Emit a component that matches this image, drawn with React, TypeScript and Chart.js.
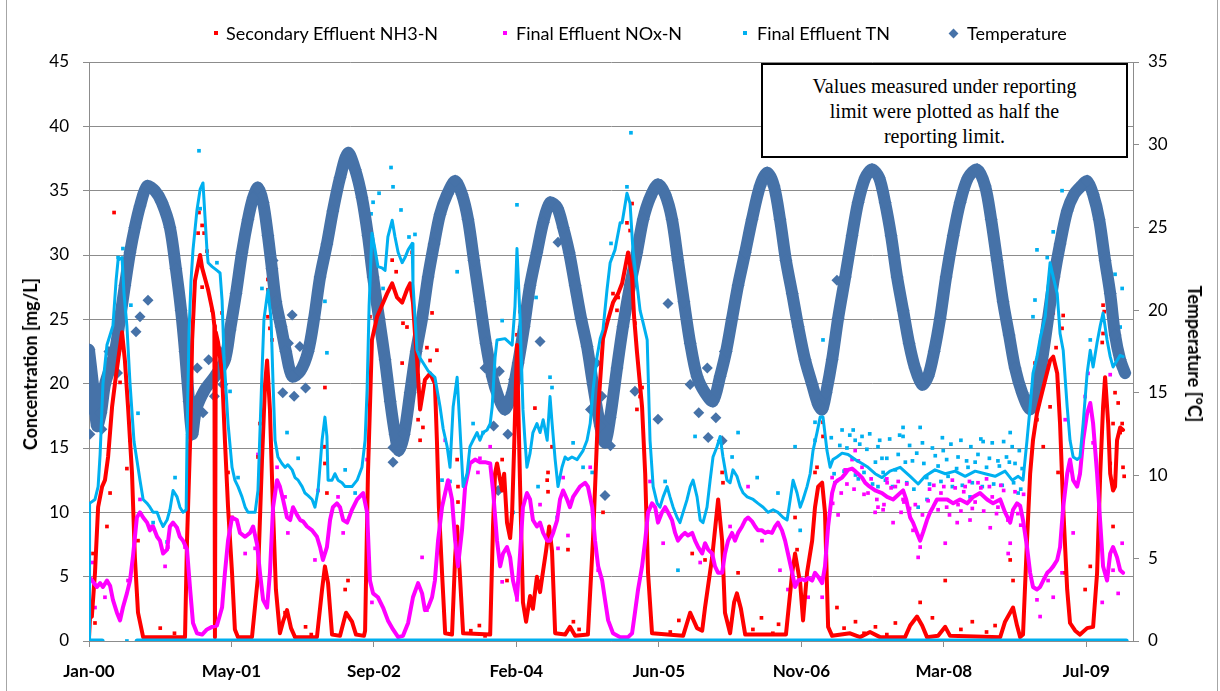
import { useEffect, useRef } from 'react';
import { Chart, registerables } from 'chart.js';

Chart.register(...registerables);

// x axis: days since 1 Jan 2000
const xMaxDay = 3664;
const xTickDays = [0, 500, 1000, 1500, 2000, 2500, 3000, 3500];
const xTickLabels = ['Jan-00', 'May-01', 'Sep-02', 'Feb-04', 'Jun-05', 'Nov-06', 'Mar-08', 'Jul-09'];

// Moving-average lines [day, mg/L]
const nh3Trend = [[0,0.3],[4,2.0],[10,1.9],[21,5.3],[32,10.4],[46,12.0],[56,12.5],[67,14.3],[81,18.2],[91,20.0],[102,21.8],[116,24.0],[126,21.8],[137,18.2],[151,13.0],[161,6.5],[172,2.2],[190,0.3],[337,0.3],[344,7.8],[355,15.6],[362,23.4],[372,28.0],[390,30.0],[397,29.0],[418,27.3],[435,25.5],[440,24.5],[442,0.3],[445,24.0],[453,23.2],[467,20.8],[477,15.6],[488,10.4],[502,5.3],[512,0.9],[523,0.3],[572,0.3],[593,5.0],[607,14.0],[618,20.0],[625,21.8],[635,18.0],[646,10.0],[656,4.0],[670,0.6],[681,1.5],[695,2.4],[709,1.0],[723,0.3],[800,0.3],[818,4.0],[828,5.8],[839,4.5],[853,0.5],[881,0.4],[902,2.2],[923,1.5],[937,0.5],[965,0.4],[969,0.8],[979,13.0],[993,23.4],[1011,25.2],[1046,27.0],[1064,27.8],[1081,26.7],[1099,26.3],[1116,27.3],[1127,27.8],[1137,26.3],[1144,23.9],[1151,22.0],[1162,18.0],[1179,20.3],[1197,20.8],[1214,20.0],[1221,15.6],[1228,10.4],[1239,5.3],[1250,0.6],[1274,0.5],[1285,6.5],[1292,8.9],[1302,5.0],[1313,0.6],[1408,0.5],[1418,9.0],[1425,13.0],[1432,13.8],[1443,12.5],[1450,11.7],[1457,13.0],[1467,9.2],[1478,8.0],[1485,10.0],[1492,15.0],[1502,23.0],[1513,12.0],[1523,3.0],[1534,1.5],[1548,3.5],[1558,2.5],[1572,5.0],[1583,3.8],[1594,5.5],[1604,7.0],[1615,8.9],[1625,7.0],[1636,0.6],[1671,0.5],[1688,1.1],[1706,0.4],[1751,0.5],[1769,8.0],[1787,18.0],[1804,23.5],[1822,25.0],[1839,26.3],[1857,27.0],[1871,27.8],[1892,30.2],[1906,28.3],[1913,25.2],[1923,22.5],[1941,18.2],[1952,13.0],[1962,5.3],[1976,0.6],[2085,0.4],[2110,2.2],[2134,1.0],[2152,0.8],[2162,2.6],[2187,6.5],[2208,11.0],[2222,7.8],[2232,2.2],[2250,0.6],[2264,3.0],[2274,3.7],[2288,2.5],[2303,0.5],[2446,0.5],[2468,5.3],[2478,6.8],[2496,4.5],[2506,1.6],[2520,5.3],[2538,7.8],[2548,10.4],[2559,12.0],[2573,12.3],[2583,10.0],[2594,1.1],[2608,0.4],[2671,0.6],[2706,0.3],[2741,0.7],[2776,0.3],[2864,0.3],[2882,1.2],[2906,1.9],[2924,1.2],[2941,0.3],[2980,0.4],[3005,1.1],[3022,0.4],[3198,0.3],[3215,1.5],[3243,2.6],[3257,1.2],[3268,0.3],[3278,0.5],[3292,7.8],[3303,13.0],[3313,15.6],[3327,17.7],[3338,18.7],[3356,20.3],[3373,21.8],[3384,22.1],[3398,20.8],[3408,16.9],[3419,10.4],[3433,4.0],[3443,1.4],[3461,0.8],[3478,0.5],[3503,1.0],[3524,1.1],[3538,5.3],[3549,13.0],[3559,18.2],[3566,20.5],[3577,16.9],[3584,13.0],[3594,11.7],[3601,12.0],[3608,15.6],[3619,16.6],[3629,16.4]];

const noxTrend = [[0,5.0],[14,4.6],[28,4.2],[39,4.5],[49,4.2],[63,4.7],[74,4.3],[84,3.2],[98,2.2],[109,1.6],[119,2.6],[133,3.7],[144,4.7],[154,6.5],[168,9.6],[179,10.0],[190,9.6],[204,9.2],[214,8.6],[225,8.9],[239,8.1],[249,7.8],[260,6.8],[274,7.1],[284,8.9],[295,9.2],[309,8.8],[319,8.1],[330,7.8],[344,7.1],[355,4.0],[365,1.4],[379,0.6],[397,0.5],[414,0.9],[432,1.1],[449,1.2],[467,2.6],[477,5.3],[488,7.8],[502,9.6],[519,9.4],[530,8.4],[548,8.1],[565,8.4],[576,8.9],[590,7.5],[600,5.3],[611,3.2],[625,2.6],[635,5.3],[646,10.4],[660,12.5],[670,12.0],[681,11.0],[695,9.6],[706,9.4],[716,10.4],[730,9.8],[741,9.4],[751,9.3],[765,8.9],[783,8.6],[800,8.1],[811,7.3],[821,6.3],[835,7.3],[846,9.4],[856,10.4],[870,10.7],[881,10.4],[892,9.4],[906,9.2],[923,10.2],[941,11.0],[962,11.5],[976,10.0],[986,4.7],[997,3.7],[1014,3.4],[1032,2.6],[1049,1.6],[1067,0.9],[1085,0.3],[1102,0.4],[1120,1.4],[1137,3.4],[1155,4.5],[1169,3.7],[1179,2.4],[1190,2.6],[1204,3.4],[1214,4.7],[1225,7.8],[1239,10.4],[1250,11.5],[1260,12.5],[1274,11.0],[1285,7.8],[1295,5.8],[1309,8.6],[1320,12.0],[1337,13.8],[1355,14.1],[1372,13.9],[1390,13.9],[1408,13.8],[1418,11.7],[1432,7.8],[1443,5.8],[1453,6.8],[1467,7.3],[1478,6.5],[1488,4.7],[1502,3.4],[1513,6.8],[1523,10.4],[1537,11.5],[1548,11.0],[1558,9.4],[1572,8.9],[1583,9.2],[1594,8.4],[1608,7.8],[1618,7.8],[1629,8.4],[1643,9.4],[1653,11.0],[1664,11.7],[1678,11.0],[1688,10.4],[1699,11.2],[1723,12.0],[1741,12.3],[1751,12.0],[1766,10.4],[1776,7.8],[1787,5.8],[1801,4.7],[1811,3.2],[1822,1.6],[1839,0.6],[1864,0.3],[1892,0.3],[1906,0.6],[1916,2.2],[1927,4.0],[1941,5.8],[1952,7.8],[1962,10.0],[1976,10.7],[1987,10.4],[1997,9.2],[2011,10.0],[2022,10.4],[2032,10.0],[2046,9.4],[2057,8.4],[2067,7.8],[2081,8.2],[2092,8.4],[2102,8.2],[2117,8.4],[2127,7.8],[2138,7.3],[2152,6.8],[2162,7.6],[2173,7.1],[2187,6.8],[2197,5.8],[2208,5.3],[2222,5.3],[2232,6.8],[2243,7.8],[2257,8.4],[2267,7.8],[2278,8.4],[2292,8.9],[2303,9.4],[2313,9.6],[2327,9.3],[2338,8.9],[2348,8.6],[2362,8.6],[2373,8.4],[2383,8.5],[2397,8.4],[2408,8.9],[2418,9.2],[2432,8.6],[2443,7.8],[2453,6.8],[2468,5.3],[2478,4.2],[2489,4.7],[2503,4.8],[2513,4.7],[2524,4.9],[2538,4.7],[2548,5.3],[2559,5.0],[2573,4.5],[2583,5.8],[2594,8.9],[2608,11.5],[2618,12.3],[2629,12.5],[2643,12.7],[2654,13.0],[2664,13.3],[2678,13.4],[2689,13.2],[2699,13.0],[2713,12.7],[2724,12.3],[2734,12.1],[2759,11.7],[2783,11.5],[2801,11.2],[2822,11.0],[2847,11.5],[2857,11.7],[2868,11.0],[2882,9.6],[2892,9.2],[2906,8.4],[2917,7.8],[2928,8.5],[2941,9.4],[2952,10.0],[2962,10.4],[2976,11.0],[3012,11.0],[3033,10.7],[3057,11.0],[3082,10.7],[3103,11.2],[3127,11.5],[3152,11.0],[3173,10.7],[3198,11.0],[3215,10.0],[3233,9.2],[3243,10.2],[3257,10.7],[3268,10.5],[3278,9.4],[3292,7.3],[3303,5.3],[3313,4.2],[3327,4.0],[3338,4.2],[3349,4.7],[3363,5.3],[3373,5.5],[3384,5.8],[3398,6.3],[3408,7.3],[3419,10.4],[3433,13.0],[3443,14.1],[3454,12.5],[3468,12.0],[3478,13.0],[3489,15.6],[3503,17.7],[3514,18.5],[3524,16.9],[3538,13.0],[3549,9.2],[3559,5.8],[3573,4.7],[3584,6.8],[3594,7.3],[3608,6.5],[3619,5.5],[3629,5.3]];

const tnTrend = [[0,0],[2,10.7],[21,11.0],[32,12.0],[39,14.5],[49,20.0],[63,23.0],[84,24.5],[95,28.0],[102,29.6],[116,29.8],[123,27.0],[133,24.5],[144,20.0],[158,15.5],[172,13.5],[179,12.5],[190,11.0],[204,10.7],[214,10.4],[225,10.0],[239,10.0],[249,9.4],[260,8.9],[274,9.4],[284,10.2],[295,11.7],[309,11.2],[319,10.4],[330,10.0],[341,10.2],[344,15.6],[351,24.0],[358,28.0],[365,30.4],[379,33.5],[390,35.1],[400,35.6],[407,33.0],[414,30.4],[418,29.4],[432,29.1],[449,28.8],[460,28.6],[467,26.5],[474,22.0],[488,16.9],[502,13.5],[512,12.5],[523,12.0],[537,11.2],[548,10.4],[558,10.0],[572,10.0],[583,10.0],[593,11.7],[607,20.8],[614,25.0],[628,27.3],[639,25.0],[646,20.0],[653,15.6],[663,14.3],[677,13.8],[688,13.5],[698,13.7],[713,13.3],[723,12.7],[734,12.5],[748,12.0],[758,11.5],[769,11.3],[783,11.0],[793,10.4],[804,11.7],[818,15.6],[828,17.4],[835,15.9],[839,12.5],[853,12.5],[863,13.0],[874,12.5],[888,12.3],[899,12.0],[923,12.0],[941,12.5],[958,13.5],[969,15.6],[976,19.5],[983,26.0],[993,31.7],[1004,30.4],[1014,29.1],[1028,29.0],[1039,28.8],[1049,31.4],[1064,32.7],[1074,31.4],[1085,30.2],[1099,29.4],[1109,29.8],[1120,30.4],[1134,30.9],[1137,27.8],[1144,25.2],[1151,22.6],[1162,22.0],[1190,21.0],[1214,20.5],[1232,18.2],[1243,16.5],[1257,15.1],[1267,13.5],[1278,18.2],[1292,20.5],[1302,16.5],[1313,12.0],[1327,13.0],[1337,15.1],[1348,15.6],[1362,16.2],[1372,15.6],[1383,16.2],[1397,16.4],[1408,16.9],[1415,18.2],[1425,22.0],[1432,23.4],[1460,23.5],[1485,23.0],[1495,26.0],[1502,30.5],[1513,25.0],[1523,18.0],[1530,15.6],[1537,13.5],[1548,14.6],[1558,16.2],[1572,16.9],[1583,16.2],[1594,17.2],[1608,15.6],[1618,19.0],[1625,17.0],[1636,14.1],[1646,12.0],[1660,13.5],[1671,14.3],[1681,14.1],[1695,14.3],[1713,14.1],[1734,14.8],[1748,15.6],[1759,16.9],[1769,19.5],[1783,22.1],[1794,23.5],[1804,24.2],[1818,27.3],[1829,29.4],[1846,30.4],[1864,32.5],[1871,32.5],[1888,34.8],[1899,34.0],[1909,30.4],[1923,27.8],[1934,25.7],[1945,24.7],[1959,23.4],[1969,15.6],[1980,12.0],[1994,10.7],[2004,10.4],[2015,11.2],[2029,12.0],[2039,11.2],[2050,10.4],[2064,9.6],[2074,9.2],[2085,10.0],[2099,11.0],[2110,12.0],[2120,12.5],[2134,11.2],[2145,9.4],[2155,9.2],[2169,10.4],[2180,12.5],[2190,14.3],[2204,15.1],[2215,15.9],[2225,14.3],[2239,12.5],[2250,12.3],[2260,13.3],[2274,12.8],[2285,12.0],[2296,11.5],[2310,11.2],[2331,11.0],[2348,10.7],[2366,10.4],[2383,10.0],[2401,10.2],[2418,10.0],[2436,9.6],[2450,9.4],[2461,11.0],[2471,12.5],[2485,11.5],[2496,10.4],[2506,11.0],[2520,12.0],[2531,13.0],[2541,14.8],[2555,16.2],[2566,17.4],[2576,17.4],[2590,14.8],[2601,13.5],[2611,14.1],[2625,14.3],[2643,14.6],[2664,14.5],[2689,14.1],[2713,13.8],[2734,13.5],[2759,13.0],[2783,12.7],[2811,13.2],[2847,13.5],[2882,12.8],[2910,12.2],[2934,12.8],[2969,13.3],[3005,13.0],[3040,13.2],[3075,12.8],[3110,13.2],[3145,13.0],[3180,12.8],[3215,13.2],[3240,12.5],[3261,12.8],[3278,12.5],[3292,15.6],[3303,18.2],[3313,20.8],[3327,22.1],[3338,23.5],[3356,25.2],[3366,27.8],[3373,29.4],[3384,28.3],[3398,27.0],[3408,23.9],[3419,22.6],[3433,18.2],[3443,15.6],[3454,14.3],[3468,14.1],[3478,14.3],[3489,16.9],[3503,20.8],[3514,22.6],[3524,21.3],[3538,23.2],[3549,24.5],[3559,25.5],[3573,23.4],[3584,22.1],[3594,21.3],[3608,21.8],[3619,22.2],[3629,22.1]];

// TN values recorded as zero (null = gap)
const tnZero = [[0,0],[46,0],[100,null],[169,0],[3640,0]];

// Individual measurements (selected visible points) [day, mg/L]
const nh3Points = [[88,33.3],[386,33.3],[397,32.3],[383,31.7],[404,31.7],[414,30.3],[397,27.5],[432,25.7],[467,25.5],[628,28.1],[628,27.3],[628,25.2],[635,24.3],[642,23.4],[1134,30.2],[1064,29.6],[1078,28.7],[1021,26.1],[986,25.2],[1102,24.7],[1116,24.4],[1204,25.5],[1186,22.8],[1506,27.5],[1513,25.6],[1502,23.8],[1839,27.0],[1853,25.7],[1853,23.2],[1906,34.0],[1888,32.5],[1899,31.9],[1857,26.7],[1916,24.7],[3384,25.5],[3419,25.3],[3415,24.3],[3394,22.8],[3559,26.1],[3563,25.6],[3559,23.9],[3556,23.2],[14,6.8],[63,8.9],[74,11.5],[109,20.1],[133,13.4],[144,15.6],[172,7.8],[21,1.4],[828,19.7],[828,15.1],[835,11.5],[828,13.8],[899,4.0],[909,4.7],[600,16.9],[593,14.3],[646,7.8],[688,2.2],[488,13.1],[502,9.6],[1099,21.6],[1221,22.6],[1197,21.8],[1162,15.6],[1172,16.6],[1155,17.2],[1292,14.1],[1295,12.0],[1295,10.8],[1292,7.3],[1565,18.1],[1611,13.1],[1608,12.5],[1625,15.1],[1611,11.6],[1804,10.0],[1681,7.1],[1478,8.4],[1467,4.7],[1450,14.1],[1941,19.7],[1934,19.0],[1923,18.0],[2222,13.1],[2225,12.3],[2117,6.8],[2162,6.3],[2278,5.3],[2478,9.6],[2485,7.1],[2548,13.1],[2555,13.5],[2576,15.9],[2576,17.0],[2625,2.6],[2917,3.0],[3005,4.7],[3233,6.3],[3243,4.7],[3320,21.6],[3327,17.2],[3349,15.1],[3373,18.2],[3401,13.1],[3426,5.3],[3514,5.8],[3496,4.0],[3584,13.8],[3594,16.9],[3594,8.9],[3601,19.3],[3612,18.5],[3626,16.9],[3619,16.2],[3629,13.5],[3633,12.8],[1340,0.8],[1370,1.2],[1390,0.4],[1700,1.5],[1720,0.9],[2040,0.7],[2070,1.6],[2330,0.9],[2360,1.8],[2400,0.6],[2420,1.3],[2650,1.0],[2690,1.5],[2720,0.6],[2760,1.1],[2800,0.5],[2830,1.4],[2960,1.8],[3060,0.9],[3100,1.5],[3150,0.7],[3180,1.2],[760,1.1],[780,0.5],[250,1.0],[300,0.6]];

const noxPoints = [[11,6.1],[21,2.6],[56,3.4],[137,4.7],[179,11.0],[221,8.9],[267,5.8],[277,7.3],[337,7.3],[548,6.8],[583,7.2],[593,14.5],[660,13.5],[688,11.2],[698,8.4],[793,6.3],[804,11.7],[874,11.2],[892,8.4],[976,14.1],[993,3.0],[1169,6.5],[1186,2.4],[1250,15.6],[1365,13.1],[1372,14.2],[1408,15.1],[1450,4.6],[1502,3.2],[1583,10.6],[1646,7.2],[1681,8.2],[1664,12.7],[1759,13.5],[1787,5.5],[1969,12.4],[2015,7.6],[2145,6.1],[2250,8.9],[2313,12.0],[2362,7.8],[2425,5.5],[2453,4.0],[2524,3.4],[2573,3.4],[2608,12.7],[2629,9.8],[2654,13.3],[2678,14.1],[2689,14.8],[2713,13.5],[2734,11.5],[2759,10.0],[2769,10.4],[2787,10.2],[2801,12.3],[2822,9.2],[2857,11.0],[2892,8.6],[2910,6.5],[2917,7.3],[3005,7.6],[3047,9.2],[3092,9.4],[3163,8.8],[3226,6.8],[3233,7.6],[3327,3.2],[3338,1.9],[3366,4.7],[3384,3.4],[3415,5.3],[3426,17.2],[3443,13.3],[3454,8.4],[3496,19.0],[3506,20.8],[3524,15.4],[3556,3.0],[3594,5.5],[3612,3.7],[3626,7.6],[3584,20.7],[2800,12.6],[2830,12.0],[2850,10.0],[2870,12.2],[2900,10.6],[2950,11.8],[2980,10.2],[3000,12.0],[3020,9.8],[3040,11.9],[3060,10.1],[3075,12.0],[3100,10.3],[3120,12.3],[3140,10.1],[3160,12.0],[3185,9.9],[3200,12.1],[3250,11.6],[3270,9.0],[3280,11.4],[2610,10.7],[2640,11.5],[2660,12.2],[2685,11.8],[2700,14.0],[2720,11.4],[2745,12.6],[2765,11.0],[2790,10.6],[2815,11.9],[2840,12.4],[2860,10.8],[2880,10.3],[2925,9.8],[2945,10.9],[2965,12.1],[2990,11.5],[3010,10.4],[3030,12.5],[3050,10.6],[3070,11.6],[3090,12.4],[3110,10.8],[3130,11.9],[3150,12.6],[3170,11.2],[3190,10.4],[3210,11.7],[3225,9.4],[3260,9.9]];

const tnPoints = [[386,38.1],[119,30.5],[102,29.8],[390,33.6],[449,29.4],[607,27.4],[828,26.4],[147,26.1],[1060,36.8],[1067,35.3],[1018,34.8],[997,34.1],[990,33.2],[1095,33.5],[1123,31.4],[1144,31.6],[1292,28.7],[1502,33.9],[1569,26.7],[1450,24.9],[1832,30.9],[1032,27.4],[1902,39.5],[1888,35.3],[2576,23.4],[3415,35.0],[3327,30.4],[3363,29.8],[3384,31.8],[3415,31.8],[3320,26.5],[3313,25.2],[3514,23.4],[3601,28.5],[3626,27.4],[3619,24.4],[3594,25.7],[835,22.4],[172,17.7],[302,12.7],[225,9.2],[274,7.7],[495,19.4],[523,12.7],[695,16.2],[734,14.2],[899,13.3],[1618,20.5],[1625,19.7],[1348,16.9],[1383,16.2],[1239,12.5],[1267,12.4],[1488,10.0],[1576,12.0],[1643,9.6],[1699,15.4],[1734,13.5],[1766,13.1],[934,11.5],[2548,17.0],[2548,15.6],[2478,15.1],[2278,16.2],[2345,12.7],[2418,11.5],[2067,5.5],[2127,15.9],[2257,14.3],[2022,12.4],[2496,8.6],[2643,16.4],[2682,16.4],[2689,15.6],[2713,15.9],[2769,15.1],[2783,14.2],[2769,12.0],[2618,12.3],[2857,16.6],[2857,15.9],[2917,16.6],[2998,14.8],[3138,15.5],[3233,16.2],[3240,15.1],[2910,10.4],[2941,11.0],[3092,11.2],[3261,11.5],[2787,13.1],[2800,14.2],[2820,12.0],[2840,14.5],[2870,12.3],[2890,14.0],[2930,13.8],[2950,12.2],[2970,14.4],[2990,12.4],[3010,14.1],[3030,12.0],[3050,14.3],[3065,12.1],[3080,14.0],[3100,12.3],[3120,14.5],[3135,12.0],[3160,14.2],[3175,12.2],[3190,14.0],[3205,12.1],[3220,14.3],[3250,13.8],[3270,11.8],[2660,15.0],[2700,12.6],[2730,14.9],[2750,12.2],[133,0],[2605,15.8],[2615,13.0],[2635,15.2],[2650,13.2],[2670,16.0],[2690,12.9],[2705,15.3],[2720,13.1],[2740,16.1],[2760,13.9],[2775,15.6],[2795,12.5],[2810,15.7],[2830,13.3],[2845,16.0],[2865,13.9],[2880,15.2],[2895,11.8],[2905,14.6],[2925,15.4],[2940,12.7],[2960,15.0],[2980,13.6],[2995,15.8],[3015,12.8],[3025,15.3],[3045,13.4],[3060,15.6],[3085,13.5],[3095,15.1],[3110,13.9],[3130,15.7],[3150,13.5],[3170,15.4],[3195,13.6],[3210,15.5],[3230,13.9],[3245,12.3],[3265,14.8],[3275,13.4]];

// Temperature [day, °C]
const tempSeries = [[0,17.6],[14,15.5],[28,13.0],[42,13.8],[56,15.5],[74,16.5],[91,17.5],[109,19.5],[126,21.5],[144,23.5],[161,25.0],[179,26.3],[204,27.5],[232,27.2],[256,26.5],[284,25.0],[305,22.5],[323,20.0],[337,17.5],[351,14.5],[362,12.5],[376,14.0],[407,15.2],[442,16.0],[477,17.0],[495,18.8],[516,21.0],[537,23.5],[558,25.5],[576,26.8],[593,27.4],[611,26.5],[628,24.5],[642,22.5],[656,20.5],[674,19.0],[691,17.5],[713,16.0],[741,16.3],[769,17.5],[790,19.5],[811,22.0],[835,24.0],[856,26.0],[881,28.0],[909,29.5],[934,28.5],[958,26.8],[979,24.5],[997,22.0],[1018,19.5],[1039,17.0],[1057,14.5],[1074,12.5],[1088,11.5],[1106,12.5],[1127,15.0],[1148,17.5],[1169,19.5],[1190,22.0],[1211,24.0],[1232,25.8],[1257,27.0],[1285,27.8],[1309,27.0],[1330,25.5],[1351,23.0],[1372,20.5],[1393,18.0],[1415,16.0],[1436,14.8],[1460,14.0],[1485,15.0],[1506,16.8],[1527,19.0],[1548,21.5],[1572,23.5],[1594,25.3],[1618,26.5],[1643,26.2],[1664,25.0],[1685,23.5],[1706,21.5],[1727,19.5],[1748,17.8],[1769,15.5],[1794,13.0],[1811,12.0],[1829,13.5],[1853,16.5],[1874,19.0],[1899,21.5],[1923,23.5],[1945,25.5],[1969,26.8],[1997,27.6],[2022,27.0],[2046,25.5],[2067,23.0],[2088,20.5],[2110,18.0],[2134,16.0],[2162,15.0],[2190,14.5],[2215,16.0],[2236,17.5],[2257,19.5],[2278,21.5],[2303,23.5],[2327,25.5],[2355,27.5],[2380,28.3],[2404,27.5],[2425,25.5],[2446,23.0],[2468,21.0],[2489,19.0],[2513,17.0],[2538,15.5],[2559,14.3],[2573,14.0],[2587,15.0],[2608,17.0],[2629,19.5],[2654,22.0],[2678,24.5],[2699,26.5],[2724,28.0],[2748,28.5],[2773,28.0],[2794,26.5],[2815,24.5],[2836,22.0],[2857,20.0],[2878,18.0],[2899,16.5],[2924,15.5],[2945,16.0],[2966,17.5],[2987,19.5],[3008,22.0],[3033,24.5],[3057,26.5],[3085,28.0],[3117,28.5],[3145,27.5],[3166,25.5],[3187,23.0],[3208,20.5],[3229,18.5],[3250,16.5],[3275,15.0],[3303,14.0],[3324,15.0],[3345,17.0],[3366,19.5],[3387,22.0],[3408,24.0],[3433,26.0],[3457,27.0],[3482,27.5],[3503,27.8],[3524,27.0],[3545,25.5],[3566,23.0],[3584,21.0],[3601,18.5],[3619,17.0],[3636,16.2]];

const tempScatter = [[207,20.6],[179,19.6],[165,18.7],[646,23.0],[713,19.7],[1067,11.7],[1067,10.8],[1436,9.1],[1811,8.8],[1646,24.1],[1548,21.3],[1583,18.1],[2625,21.8],[2032,20.4],[1997,13.4],[1916,15.1],[2173,12.3],[2222,12.1],[0,14.0],[3,12.5],[28,14.5],[45,12.8],[70,17.5],[100,16.2],[380,16.5],[400,13.8],[420,17.0],[440,14.8],[460,17.5],[470,15.5],[680,15.0],[700,18.0],[720,14.8],[740,17.8],[760,15.3],[1390,16.5],[1420,13.0],[1440,16.3],[1470,12.5],[1490,15.8],[1760,14.0],[1780,16.8],[1800,14.8],[1830,11.8],[2110,15.5],[2140,13.8],[2170,16.5],[2200,13.5],[2230,17.5]];

const seriesNames = ['Secondary Effluent NH3-N', 'Final Effluent NOx-N', 'Final Effluent TN', 'Temperature'];
const seriesColors = ['#FF0000', '#FF00FF', '#00B0F0', '#4672A8'];
const axisTitles = ['Concentration [mg/L]', 'Temperature [°C]'];
const noteLines = ['Values measured under reporting', 'limit were plotted as half the', 'reporting limit.'];

const toXY = (arr: (number | null)[][]) => arr.map(([x, y]) => ({ x: x as number, y }));

const FONT = 'Lato, "Noto Sans", sans-serif';
const GRID = '#8c8c8c';

export default function App() {
  const canvasRef = useRef<HTMLCanvasElement | null>(null);

  useEffect(() => {
    const [cRed, cMag, cCyan, cTemp] = seriesColors;
    const lineDs = (data: any, color: string, width: number, order: number) => ({
      data: toXY(data),
      showLine: true,
      borderColor: color,
      borderWidth: width,
      pointRadius: 0,
      pointHoverRadius: 0,
      tension: 0,
      borderJoinStyle: 'round' as const,
      borderCapStyle: 'round' as const,
      spanGaps: false,
      yAxisID: 'y',
      order,
    });
    const dotDs = (data: any, color: string, order: number) => ({
      data: toXY(data),
      showLine: false,
      pointStyle: 'rect' as const,
      pointRadius: 2.6,
      pointBackgroundColor: color,
      pointBorderWidth: 0,
      borderColor: color,
      yAxisID: 'y',
      order,
    });

    const chart = new Chart(canvasRef.current as HTMLCanvasElement, {
      type: 'scatter',
      data: {
        datasets: [
          { label: seriesNames[0], ...dotDs(nh3Points, cRed, 6) },
          { label: seriesNames[1], ...dotDs(noxPoints, cMag, 6) },
          { label: seriesNames[2], ...dotDs(tnPoints, cCyan, 6) },
          {
            label: seriesNames[3],
            data: toXY(tempScatter),
            showLine: false,
            pointStyle: 'rectRot',
            pointRadius: 5.5,
            pointBackgroundColor: cTemp,
            pointBorderWidth: 0,
            borderColor: cTemp,
            yAxisID: 'y1',
            order: 5,
          },
          {
            label: 'temp-band',
            data: toXY(tempSeries),
            showLine: true,
            borderColor: cTemp,
            borderWidth: 12,
            borderJoinStyle: 'round',
            borderCapStyle: 'round',
            pointStyle: 'rectRot',
            pointRadius: 6.5,
            pointBackgroundColor: cTemp,
            pointBorderWidth: 0,
            tension: 0.3,
            yAxisID: 'y1',
            order: 4,
          },
          { label: 'nh3-ma', ...lineDs(nh3Trend, cRed, 4, 3) },
          { label: 'nox-ma', ...lineDs(noxTrend, cMag, 4, 2) },
          { label: 'tn-ma', ...lineDs(tnTrend, cCyan, 3, 1) },
          { label: 'tn-zero', ...lineDs(tnZero, cCyan, 5, 0) },
        ] as any,
      },
      options: {
        animation: false,
        responsive: false,
        events: [],
        layout: { padding: { top: 62, left: 0, right: 0, bottom: 0 } },
        plugins: { legend: { display: false }, tooltip: { enabled: false } },
        scales: {
          x: {
            type: 'linear',
            min: 0,
            max: xMaxDay,
            afterBuildTicks: (scale: any) => {
              scale.ticks = xTickDays.map((v) => ({ value: v }));
            },
            afterFit: (scale: any) => {
              scale.height = 50;
            },
            ticks: {
              autoSkip: false,
              maxRotation: 0,
              padding: 14,
              color: '#000',
              font: { family: FONT, size: 17, weight: 'bold' },
              callback: (_v: any, i: number) => xTickLabels[i],
            },
            grid: { drawOnChartArea: false, drawTicks: true, tickLength: 6, color: GRID },
            border: { display: true, color: GRID },
          },
          y: {
            type: 'linear',
            position: 'left',
            min: 0,
            max: 45,
            afterFit: (scale: any) => {
              scale.width = 89;
            },
            ticks: { stepSize: 5, padding: 14, color: '#000', font: { family: FONT, size: 17 } },
            grid: { color: GRID, tickLength: 6 },
            border: { display: true, color: GRID },
          },
          y1: {
            type: 'linear',
            position: 'right',
            min: 0,
            max: 35,
            afterFit: (scale: any) => {
              scale.width = 87;
            },
            ticks: { stepSize: 5, padding: 9, color: '#000', font: { family: FONT, size: 17 } },
            grid: { drawOnChartArea: false, color: GRID, tickLength: 6 },
            border: { display: true, color: GRID },
          },
        },
      } as any,
    });
    return () => chart.destroy();
  }, []);

  const legendPos = [
    { mx: 216, tx: 226 },
    { mx: 505, tx: 516 },
    { mx: 745, tx: 757 },
    { mx: 953, tx: 967 },
  ];

  const titleStyle = (cx: number, cy: number, deg: number) => ({
    position: 'absolute' as const,
    left: cx,
    top: cy,
    transform: `translate(-50%, -50%) rotate(${deg}deg)`,
    whiteSpace: 'nowrap' as const,
    fontFamily: FONT,
    fontWeight: 700,
    fontSize: 18,
    lineHeight: '22px',
    color: '#000',
  });

  return (
    <div style={{ position: 'absolute', left: 0, top: 0, width: 1220, height: 691, background: '#fff', overflow: 'hidden' }}>
      <canvas ref={canvasRef} width={1220} height={691} style={{ position: 'absolute', left: 0, top: 0 }} />
      <div style={{ position: 'absolute', left: 6, top: 0, width: 1, height: 691, background: '#a6a6a6' }} />
      <div style={{ position: 'absolute', left: 1217, top: 0, width: 1, height: 691, background: '#a6a6a6' }} />
      <div style={titleStyle(30, 364, -90)}>{axisTitles[0]}</div>
      <div style={titleStyle(1195, 354, 90)}>{axisTitles[1]}</div>
      {seriesNames.map((name, i) => {
        const p = legendPos[i];
        const isDiamond = i === 3;
        const s = isDiamond ? 7 : 4;
        return (
          <div key={name}>
            <div
              style={{
                position: 'absolute',
                left: p.mx - s / 2,
                top: 33 - s / 2,
                width: s,
                height: s,
                background: seriesColors[i],
                transform: isDiamond ? 'rotate(45deg)' : undefined,
              }}
            />
            <div
              style={{
                position: 'absolute',
                left: p.tx,
                top: 22,
                lineHeight: '22px',
                fontFamily: FONT,
                fontSize: 18,
                color: '#000',
                whiteSpace: 'nowrap',
              }}
            >
              {name}
            </div>
          </div>
        );
      })}
      <div
        style={{
          position: 'absolute',
          left: 761,
          top: 63,
          width: 367,
          height: 95,
          boxSizing: 'border-box',
          border: '2px solid #000',
          background: '#fff',
          fontFamily: '"Liberation Serif", "Times New Roman", serif',
          fontSize: 20,
          lineHeight: '25px',
          textAlign: 'center',
          paddingTop: 9,
          color: '#000',
        }}
      >
        {noteLines.map((l) => (
          <div key={l}>{l}</div>
        ))}
      </div>
    </div>
  );
}
